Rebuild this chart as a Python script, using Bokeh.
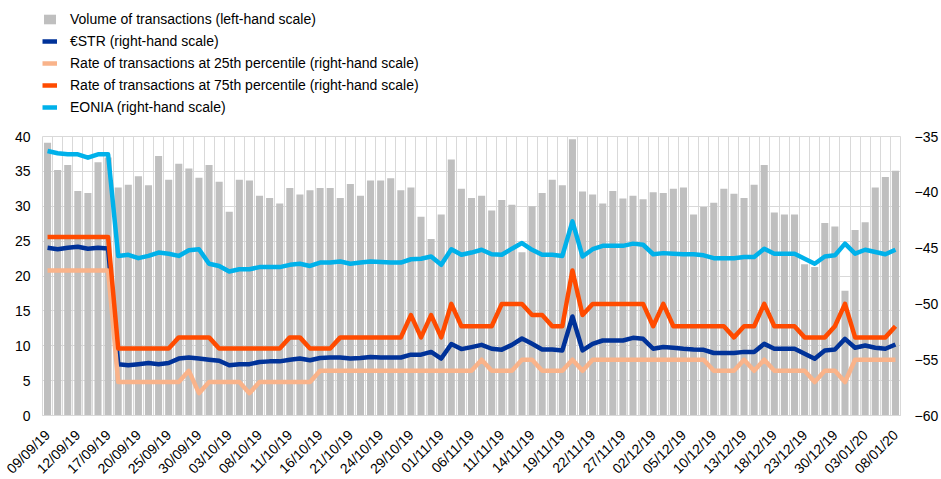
import math
from bokeh.plotting import figure
from bokeh.layouts import column
from bokeh.models import (Range1d, LinearAxis, FixedTicker, Legend, LegendItem,
                          ColumnDataSource)
from bokeh.embed import file_html
from bokeh.resources import INLINE

dates = [
    "09/09/19", "10/09/19", "11/09/19", "12/09/19", "13/09/19", "16/09/19", "17/09/19", "18/09/19",
    "19/09/19", "20/09/19", "23/09/19", "24/09/19", "25/09/19", "26/09/19", "27/09/19", "30/09/19",
    "01/10/19", "02/10/19", "03/10/19", "04/10/19", "07/10/19", "08/10/19", "09/10/19", "10/10/19",
    "11/10/19", "14/10/19", "15/10/19", "16/10/19", "17/10/19", "18/10/19", "21/10/19", "22/10/19",
    "23/10/19", "24/10/19", "25/10/19", "28/10/19", "29/10/19", "30/10/19", "31/10/19",
    "01/11/19", "04/11/19", "05/11/19", "06/11/19", "07/11/19", "08/11/19", "11/11/19", "12/11/19",
    "13/11/19", "14/11/19", "15/11/19", "18/11/19", "19/11/19", "20/11/19", "21/11/19", "22/11/19",
    "25/11/19", "26/11/19", "27/11/19", "28/11/19", "29/11/19",
    "02/12/19", "03/12/19", "04/12/19", "05/12/19", "06/12/19", "09/12/19", "10/12/19", "11/12/19",
    "12/12/19", "13/12/19", "16/12/19", "17/12/19", "18/12/19", "19/12/19", "20/12/19", "23/12/19",
    "24/12/19", "27/12/19", "30/12/19", "31/12/19",
    "02/01/20", "03/01/20", "06/01/20", "07/01/20", "08/01/20",
]

# Volume of transactions (left-hand scale)
volume = [
    39.1, 35.2, 35.9, 32.2, 31.9, 36.3, 37.0, 32.7, 33.1, 34.3, 33.0, 37.2, 33.8, 36.1, 35.4, 34.1,
    35.9, 33.5, 29.2, 33.8, 33.7, 31.5, 31.2, 30.4, 32.6, 31.7, 32.3, 32.6, 32.6, 31.2, 33.2, 31.5,
    33.7, 33.7, 34.0, 32.3, 32.7, 28.5, 25.3, 28.8, 36.7, 32.5, 31.2, 31.5, 29.4, 30.9, 30.2, 23.4,
    30.0, 31.9, 33.8, 33.0, 39.6, 32.1, 31.7, 30.4, 32.2, 31.1, 31.5, 31.0, 32.0, 31.9, 32.5, 32.7,
    28.8, 29.9, 30.5, 32.5, 31.8, 31.2, 33.1, 35.9, 29.1, 28.8, 28.8, 21.7, 21.3, 27.6, 27.1, 17.9,
    26.6, 27.7, 32.7, 34.2, 35.1,
]

# €STR (right-hand scale)
estr = [
    -44.97, -45.1, -44.97, -44.88, -45.06, -44.97, -45.03, -55.4, -55.5, -55.4, -55.3, -55.4,
    -55.3, -54.9, -54.8, -54.9, -55.0, -55.1, -55.5, -55.4, -55.4, -55.2, -55.15, -55.15,
    -55.0, -54.9, -55.05, -54.85, -54.8, -54.8, -54.9, -54.85, -54.75, -54.8, -54.8, -54.8,
    -54.55, -54.55, -54.3, -54.9, -53.6, -54.05, -53.87, -53.67, -54.02, -54.1, -53.67, -53.1,
    -53.58, -54.08, -54.08, -54.17, -51.13, -54.17, -53.58, -53.28, -53.28, -53.28, -53.04, -53.13,
    -54.02, -53.87, -53.93, -54.02, -54.08, -54.11, -54.4, -54.4, -54.4, -54.3, -54.3, -53.58,
    -54.02, -54.02, -54.02, -54.47, -54.92, -54.17, -54.08, -53.13, -53.93, -53.73, -53.93, -54.02,
    -53.64,
]

# Rate of transactions at 25th percentile (right-hand scale)
p25 = [
    -47, -47, -47, -47, -47, -47, -47, -57, -57, -57, -57, -57, -57, -57, -56, -58,
    -57, -57, -57, -57, -58, -57, -57, -57, -57, -57, -57, -56, -56, -56, -56, -56,
    -56, -56, -56, -56, -56, -56, -56, -56, -56, -56, -56, -55, -56, -56, -56, -55,
    -55, -56, -56, -56, -55, -56, -55, -55, -55, -55, -55, -55, -55, -55, -55, -55,
    -55, -55, -56, -56, -56, -55, -56, -55, -56, -56, -56, -56, -57, -56, -56, -57,
    -55, -55, -55, -55, -55,
]

# Rate of transactions at 75th percentile (right-hand scale)
p75 = [
    -44, -44, -44, -44, -44, -44, -44, -54, -54, -54, -54, -54, -54, -53, -53, -53,
    -53, -54, -54, -54, -54, -54, -54, -54, -53, -53, -54, -54, -54, -53, -53, -53,
    -53, -53, -53, -53, -51, -53, -51, -53, -50, -52, -52, -52, -52, -50, -50, -50,
    -51, -51, -52, -52, -47, -51, -50, -50, -50, -50, -50, -50, -52, -50, -52, -52,
    -52, -52, -52, -52, -53, -52, -52, -50, -52, -52, -52, -53, -53, -53, -52, -50,
    -53, -53, -53, -53, -52,
]

# EONIA (right-hand scale)
eonia = [
    -36.3, -36.5, -36.6, -36.6, -36.9, -36.6, -36.6, -45.7, -45.6, -45.9, -45.7, -45.4,
    -45.5, -45.7, -45.2, -45.1, -46.4, -46.6, -47.1, -46.9, -46.9, -46.7, -46.7, -46.7,
    -46.5, -46.4, -46.6, -46.3, -46.3, -46.2, -46.4, -46.3, -46.2, -46.25, -46.3, -46.3,
    -46.0, -45.95, -45.75, -46.5, -45.1, -45.6, -45.4, -45.15, -45.55, -45.6, -45.05, -44.55,
    -45.15, -45.6, -45.6, -45.7, -42.6, -45.75, -45.1, -44.8, -44.8, -44.8, -44.6, -44.7,
    -45.55, -45.45, -45.5, -45.55, -45.55, -45.65, -45.9, -45.9, -45.9, -45.8, -45.8, -45.05,
    -45.5, -45.5, -45.5, -45.95, -46.4, -45.75, -45.65, -44.6, -45.5, -45.15, -45.35, -45.55,
    -45.15,
]

left_ticks = [0, 5, 10, 15, 20, 25, 30, 35, 40]
right_ticks = [-60, -55, -50, -45, -40, -35]

series_labels = [
    "Volume of transactions (left-hand scale)",
    "€STR (right-hand scale)",
    "Rate of transactions at 25th percentile (right-hand scale)",
    "Rate of transactions at 75th percentile (right-hand scale)",
    "EONIA (right-hand scale)",
]

FONT = "Liberation Sans"
GRID = "#D9D9D9"
C_BAR = "#BFBFBF"
C_ESTR = "#003299"
C_P25 = "#F9B38A"
C_P75 = "#FF4B00"
C_EONIA = "#00B1EA"
LW = 4.5

W = 941
PAGE_H = 479
LEG_H = 124
BOTTOM = 71          # room reserved by Bokeh for the rotated date labels
MAIN_H = 415 - LEG_H + BOTTOM

n = len(dates)
xs = list(range(n))
src = ColumnDataSource(dict(x=xs, volume=volume, estr=estr, p25=p25, p75=p75, eonia=eonia))

# ---------------- legend strip ----------------
lf = figure(width=W, height=LEG_H, output_backend="svg", toolbar_location=None,
            x_range=Range1d(0, 1), y_range=Range1d(0, 1),
            x_axis_location=None, y_axis_location=None,
            min_border_left=0, min_border_right=0, min_border_top=0, min_border_bottom=0)
lf.outline_line_color = None
lf.grid.visible = False
# stand-in renderers (kept outside the visible range) that carry the legend styles
hidden = ColumnDataSource(dict(x=[-10, -9], y=[-10, -10]))
lb = lf.vbar(x="x", top="y", width=0.7, source=hidden, fill_color=C_BAR, line_color=None)
l1 = lf.line("x", "y", source=hidden, line_color=C_ESTR, line_width=LW)
l2 = lf.line("x", "y", source=hidden, line_color=C_P25, line_width=LW)
l3 = lf.line("x", "y", source=hidden, line_color=C_P75, line_width=LW)
l4 = lf.line("x", "y", source=hidden, line_color=C_EONIA, line_width=LW)

legend = Legend(items=[
    LegendItem(label=series_labels[0], renderers=[lb]),
    LegendItem(label=series_labels[1], renderers=[l1]),
    LegendItem(label=series_labels[2], renderers=[l2]),
    LegendItem(label=series_labels[3], renderers=[l3]),
    LegendItem(label=series_labels[4], renderers=[l4]),
], location=(0, 9), orientation="vertical")
legend.label_text_font = FONT
legend.label_text_font_size = "14px"
legend.label_text_color = "#000000"
legend.glyph_width = 15
legend.glyph_height = 12
legend.label_height = 16
legend.label_standoff = 13
legend.spacing = 6
legend.padding = 0
legend.margin = 0
legend.border_line_color = None
legend.background_fill_alpha = 0
lf.add_layout(legend, "center")

# ---------------- main chart ----------------
p = figure(width=W, height=MAIN_H, output_backend="svg", toolbar_location=None,
           x_range=Range1d(-0.5, n - 0.5), y_range=Range1d(left_ticks[0], left_ticks[-1]),
           min_border_left=42, min_border_right=39, min_border_top=136 - LEG_H,
           min_border_bottom=BOTTOM)
p.extra_y_ranges = {"right": Range1d(right_ticks[0], right_ticks[-1])}

p.outline_line_color = GRID
p.background_fill_color = "white"
p.border_fill_color = "white"

p.xgrid.ticker = FixedTicker(ticks=[i - 0.5 for i in range(n + 1)])
p.xgrid.grid_line_color = GRID
p.ygrid.ticker = FixedTicker(ticks=left_ticks)
p.ygrid.grid_line_color = GRID

tick_idx = list(range(0, n, 3))
p.xaxis.ticker = FixedTicker(ticks=tick_idx)
p.xaxis.major_label_overrides = {i: dates[i] for i in tick_idx}
p.xaxis.major_label_orientation = math.pi / 4
p.xaxis.axis_line_color = GRID
p.xaxis.major_tick_line_color = None
p.xaxis.minor_tick_line_color = None
p.xaxis.major_tick_out = 0
p.xaxis.major_tick_in = 0
p.xaxis.major_label_text_font = FONT
p.xaxis.major_label_text_font_size = "14px"
p.xaxis.major_label_text_color = "#000000"
p.xaxis.major_label_standoff = 17

for ax in (p.yaxis[0],):
    ax.ticker = FixedTicker(ticks=left_ticks)
    ax.axis_line_color = None
    ax.major_tick_line_color = None
    ax.minor_tick_line_color = None
    ax.major_tick_out = 0
    ax.major_tick_in = 0
    ax.major_label_text_font = FONT
    ax.major_label_text_font_size = "14px"
    ax.major_label_text_color = "#000000"
    ax.major_label_standoff = 12

ra = LinearAxis(y_range_name="right", ticker=FixedTicker(ticks=right_ticks))
ra.axis_line_color = None
ra.major_tick_line_color = None
ra.minor_tick_line_color = None
ra.major_tick_out = 0
ra.major_tick_in = 0
ra.major_label_text_font = FONT
ra.major_label_text_font_size = "14px"
ra.major_label_text_color = "#000000"
ra.major_label_standoff = 14
p.add_layout(ra, "right")

p.vbar(x="x", top="volume", width=0.7, bottom=0, source=src, fill_color=C_BAR, line_color=None)
p.line("x", "estr", source=src, y_range_name="right", line_color=C_ESTR, line_width=LW, line_join="round")
p.line("x", "p25", source=src, y_range_name="right", line_color=C_P25, line_width=LW, line_join="round")
p.line("x", "p75", source=src, y_range_name="right", line_color=C_P75, line_width=LW, line_join="round")
p.line("x", "eonia", source=src, y_range_name="right", line_color=C_EONIA, line_width=LW, line_join="round")

layout = column(lf, p, spacing=0, width=W, height=PAGE_H, styles={"overflow": "hidden"})
open("out.html", "w").write(file_html(layout, INLINE))
